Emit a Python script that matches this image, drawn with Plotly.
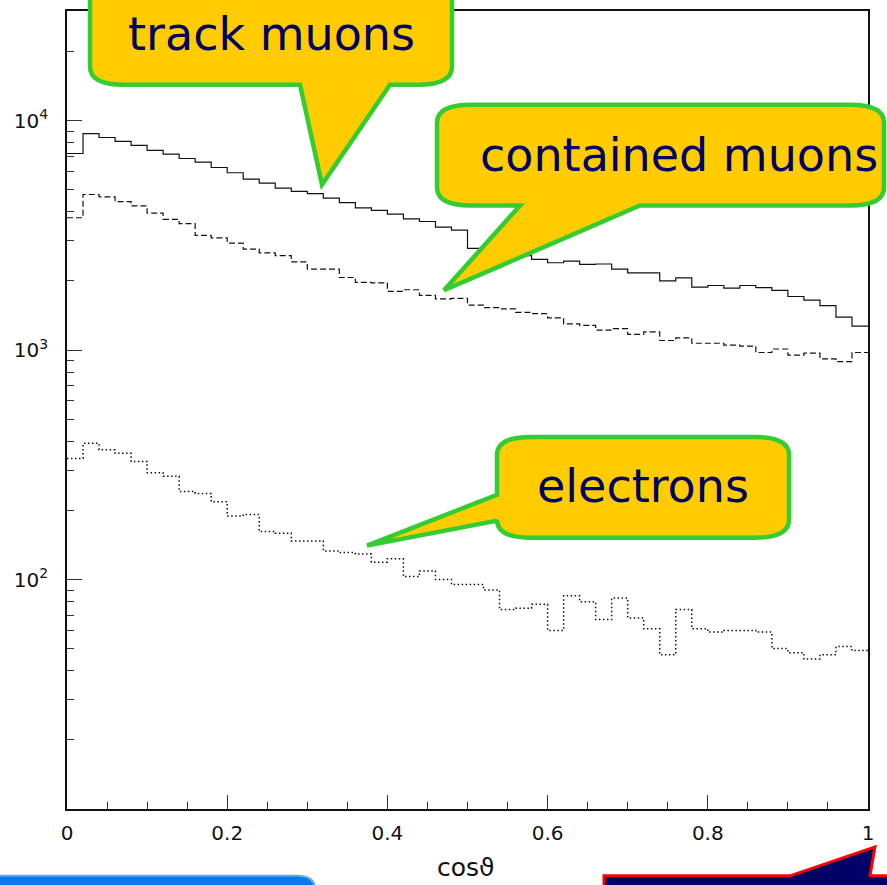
import plotly.graph_objects as go

# ---------------- data (50 bins of width 0.02 in cos theta) ----------------
bin_edges = [round(0.02 * i, 2) for i in range(51)]

track_muons = [7180, 8770, 8430, 8110, 7790, 7410, 7130, 6830, 6590, 6240,
               5920, 5550, 5330, 5070, 4910, 4800, 4590, 4390, 4160, 4060,
               3910, 3730, 3630, 3430, 3330, 2770, 2700, 2640, 2580, 2480,
               2400, 2440, 2360, 2370, 2250, 2170, 2170, 2000, 2060, 1880,
               1910, 1860, 1910, 1870, 1820, 1710, 1650, 1560, 1390, 1270]

contained_muons = [3770, 4760, 4650, 4430, 4250, 3950, 3710, 3550, 3160, 3080,
                   2920, 2750, 2650, 2580, 2420, 2250, 2250, 2070, 1970, 1960,
                   1800, 1830, 1730, 1670, 1680, 1570, 1530, 1510, 1460, 1440,
                   1380, 1300, 1280, 1220, 1240, 1170, 1200, 1100, 1130, 1070,
                   1070, 1050, 1040, 975, 1010, 950, 970, 915, 889, 975]

electrons = [337, 392, 368, 355, 327, 292, 282, 242, 237, 218,
             189, 192, 162, 159, 147, 147, 133, 131, 129, 119,
             123, 103, 109, 100, 95, 95, 90, 74, 75, 78,
             60, 85, 80, 67, 83, 68, 61, 47, 74, 61,
             59, 60, 60, 59, 50, 48, 45, 47, 51, 49]

y_major = [100, 1000, 10000]
y_major_text = ["10<sup>2</sup>", "10<sup>3</sup>", "10<sup>4</sup>"]
y_minor = [m * d for d in (10, 100, 1000, 10000) for m in range(2, 10)]
x_major = [0, 0.2, 0.4, 0.6, 0.8, 1]
x_major_text = ["0", "0.2", "0.4", "0.6", "0.8", "1"]

callout_texts = ["track muons", "contained muons", "electrons"]

# ---------------- figure ----------------
W, H = 887, 885
ML, MR, MT, MB = 67, 19, 9, 76
PW, PH = W - ML - MR, H - MT - MB


def px(x):
    return (x - ML) / PW


def py(y):
    return (H - MB - y) / PH


def path(cmds):
    out = []
    for c in cmds:
        op, pts = c[0], c[1:]
        if op == "Z":
            out.append("Z")
            continue
        coords = " ".join(f"{px(pts[i]):.5f},{py(pts[i + 1]):.5f}" for i in range(0, len(pts), 2))
        out.append(f"{op} {coords}")
    return " ".join(out)


fig = go.Figure()

styles = [(track_muons, "solid", 1.2), (contained_muons, "6px,3px", 1.2), (electrons, "1.5px,2.5px", 1.5)]
for vals, dash, lw in styles:
    fig.add_trace(go.Scatter(
        x=bin_edges, y=list(vals) + [vals[-1]], mode="lines",
        line=dict(color="#111111", width=lw, dash=dash, shape="hv"),
        showlegend=False, hoverinfo="skip"))

TICKFONT = dict(family="DejaVu Sans, sans-serif", size=20, color="#111111")

fig.update_layout(
    width=W, height=H,
    margin=dict(l=ML, r=MR, t=MT, b=MB),
    paper_bgcolor="white", plot_bgcolor="white",
    showlegend=False,
    xaxis=dict(range=[0, 1], showgrid=False, zeroline=False,
               showline=True, linecolor="#111111", linewidth=1.6, mirror=True,
               ticks="inside", ticklen=14, tickwidth=1, tickcolor="#333333",
               tickvals=x_major, ticktext=x_major_text, ticklabelstandoff=5,
               tickfont=TICKFONT,
               minor=dict(dtick=0.05, tick0=0, ticks="inside", ticklen=7, tickwidth=1,
                          tickcolor="#333333", showgrid=False)),
    yaxis=dict(type="log", range=[1, 4.4771], showgrid=False, zeroline=False,
               showline=True, linecolor="#111111", linewidth=1.6, mirror=True,
               ticks="inside", ticklen=15, tickwidth=1, tickcolor="#333333",
               tickvals=y_major, ticktext=y_major_text, ticklabelstandoff=13,
               tickfont=TICKFONT,
               minor=dict(tickvals=y_minor, ticks="inside", ticklen=7, tickwidth=1,
                          tickcolor="#333333", showgrid=False)),
)

# x axis title
fig.add_annotation(text="cosϑ", xref="paper", yref="paper", x=px(466), y=py(868),
                   xanchor="center", yanchor="middle", showarrow=False,
                   font=dict(family="DejaVu Sans, sans-serif", size=25, color="#111111"))

YELLOW, GREEN, NAVY = "#FFCC00", "#33CC33", "#000066"
rx, ry = 34, 18

# callout 1: track muons (pointer on bottom edge)
x0, y0, x1, y1 = 90, -60, 452, 83
a, b, tip = (300, 390, (322, 183))
p1 = path([("M", x0 + rx, y0), ("L", x1 - rx, y0), ("Q", x1, y0, x1, y0 + ry),
           ("L", x1, y1 - ry), ("Q", x1, y1, x1 - rx, y1), ("L", b, y1),
           ("L", tip[0], tip[1]), ("L", a, y1), ("L", x0 + rx, y1),
           ("Q", x0, y1, x0, y1 - ry), ("L", x0, y0 + ry), ("Q", x0, y0, x0 + rx, y0), ("Z",)])

# callout 2: contained muons
x0, y0, x1, y1 = 437, 103, 884, 204
a, b, tip = (520, 640, (444, 289))
p2 = path([("M", x0 + rx, y0), ("L", x1 - rx, y0), ("Q", x1, y0, x1, y0 + ry),
           ("L", x1, y1 - ry), ("Q", x1, y1, x1 - rx, y1), ("L", b, y1),
           ("L", tip[0], tip[1]), ("L", a, y1), ("L", x0 + rx, y1),
           ("Q", x0, y1, x0, y1 - ry), ("L", x0, y0 + ry), ("Q", x0, y0, x0 + rx, y0), ("Z",)])

# callout 3: electrons (pointer on left edge)
x0, y0, x1, y1 = 497, 436, 789, 537
up, lo, tip = (494, 520, (367, 545))
p3 = path([("M", x0 + rx, y0), ("L", x1 - rx, y0), ("Q", x1, y0, x1, y0 + ry),
           ("L", x1, y1 - ry), ("Q", x1, y1, x1 - rx, y1), ("L", x0 + rx, y1),
           ("Q", x0, y1, x0, y1 - ry), ("L", x0, lo), ("L", tip[0], tip[1]),
           ("L", x0, up), ("L", x0, y0 + ry), ("Q", x0, y0, x0 + rx, y0), ("Z",)])

for p in (p1, p2, p3):
    fig.add_shape(type="path", path=p, xref="paper", yref="paper",
                  fillcolor=YELLOW, line=dict(color=GREEN, width=4.5), layer="above")

text_pos = [(271, 32), (679, 153), (643, 485)]
for t, (tx, ty) in zip(callout_texts, text_pos):
    fig.add_annotation(text=t, xref="paper", yref="paper", x=px(tx), y=py(ty),
                       xanchor="center", yanchor="middle", showarrow=False,
                       font=dict(family="DejaVu Sans, sans-serif", size=46, color=NAVY))

# bottom decorations (slide elements)
bl = path([("M", -20, 876), ("L", 297, 876), ("Q", 315, 876, 315, 890),
           ("L", 315, 905), ("L", -20, 905), ("Z",)])
fig.add_shape(type="path", path=bl, xref="paper", yref="paper",
              fillcolor="#0A78E8", line=dict(color="#5AA6F2", width=2), layer="above")

br = path([("M", 604, 905), ("L", 604, 876), ("L", 790, 876), ("L", 875, 847),
           ("L", 870, 876), ("L", 900, 876), ("L", 900, 905), ("Z",)])
fig.add_shape(type="path", path=br, xref="paper", yref="paper",
              fillcolor=NAVY, line=dict(color="#FF0000", width=3), layer="above")

fig.write_html("out.html")
